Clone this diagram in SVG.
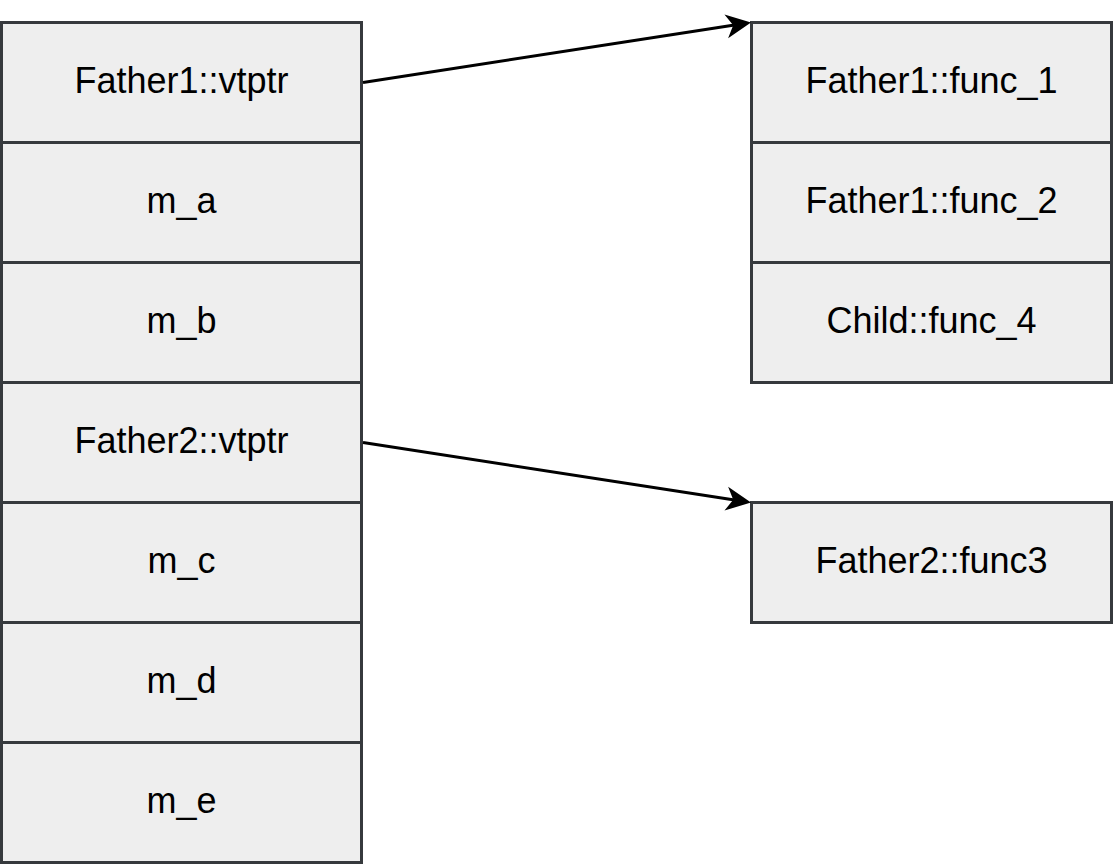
<svg xmlns="http://www.w3.org/2000/svg" width="1113" height="864" viewBox="0 0 1113 864">
  <style>
    .cell { fill: #eeeeee; stroke: #36393d; stroke-width: 3; }
    .lbl { font-family: "Liberation Sans", Arial, sans-serif; font-size: 36px; fill: #000000; text-anchor: middle; }
    .edge { fill: none; stroke: #000000; stroke-width: 3; }
  </style>
  <defs>
    <marker id="arrow" markerUnits="userSpaceOnUse" refX="0" refY="0" markerWidth="1" markerHeight="1" orient="auto" overflow="visible">
      <path d="M15,0 L-10,-12 L-3,0 L-10,12 Z" fill="#000000" stroke="none"/>
    </marker>
  </defs>
  <rect x="0" y="0" width="1113" height="864" fill="#ffffff"/>

  <g id="obj-father1-vtptr">
    <rect class="cell" x="1.5" y="22.5" width="360" height="120"/>
    <text class="lbl" x="181.5" y="92.7">Father1::vtptr</text>
  </g>
  <g id="obj-m_a">
    <rect class="cell" x="1.5" y="142.5" width="360" height="120"/>
    <text class="lbl" x="181.5" y="212.7">m_a</text>
  </g>
  <g id="obj-m_b">
    <rect class="cell" x="1.5" y="262.5" width="360" height="120"/>
    <text class="lbl" x="181.5" y="332.7">m_b</text>
  </g>
  <g id="obj-father2-vtptr">
    <rect class="cell" x="1.5" y="382.5" width="360" height="120"/>
    <text class="lbl" x="181.5" y="452.7">Father2::vtptr</text>
  </g>
  <g id="obj-m_c">
    <rect class="cell" x="1.5" y="502.5" width="360" height="120"/>
    <text class="lbl" x="181.5" y="572.7">m_c</text>
  </g>
  <g id="obj-m_d">
    <rect class="cell" x="1.5" y="622.5" width="360" height="120"/>
    <text class="lbl" x="181.5" y="692.7">m_d</text>
  </g>
  <g id="obj-m_e">
    <rect class="cell" x="1.5" y="742.5" width="360" height="120"/>
    <text class="lbl" x="181.5" y="812.7">m_e</text>
  </g>

  <g id="vt1-func_1">
    <rect class="cell" x="751.5" y="22.5" width="360" height="120"/>
    <text class="lbl" x="931.5" y="92.7">Father1::func_1</text>
  </g>
  <g id="vt1-func_2">
    <rect class="cell" x="751.5" y="142.5" width="360" height="120"/>
    <text class="lbl" x="931.5" y="212.7">Father1::func_2</text>
  </g>
  <g id="vt1-func_4">
    <rect class="cell" x="751.5" y="262.5" width="360" height="120"/>
    <text class="lbl" x="931.5" y="332.7">Child::func_4</text>
  </g>

  <g id="vt2-func3">
    <rect class="cell" x="751.5" y="502.5" width="360" height="120"/>
    <text class="lbl" x="931.5" y="572.7">Father2::func3</text>
  </g>

  <g id="connectors">
    <path class="edge" d="M363,82.5 L736.17,24.77" marker-end="url(#arrow)"/>
    <path class="edge" d="M363,442.5 L736.18,500.21" marker-end="url(#arrow)"/>
  </g>
</svg>
